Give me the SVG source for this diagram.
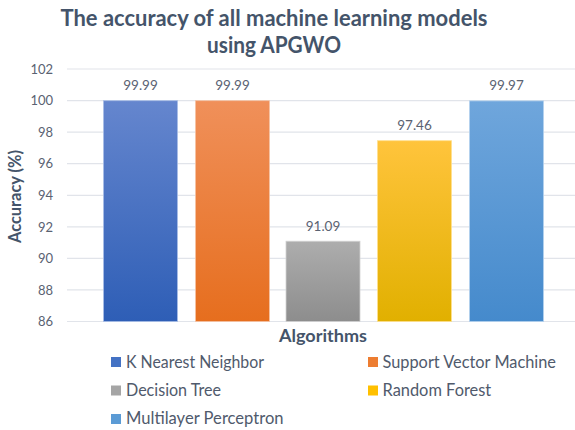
<svg xmlns="http://www.w3.org/2000/svg" width="575" height="430" viewBox="0 0 575 430">
  <style>
    .title { font-family: Lato, "Liberation Sans", sans-serif; font-weight: bold; font-size: 23px; fill: #44546A; text-anchor: middle; }
    .axis-title { font-family: Lato, "Liberation Sans", sans-serif; font-weight: bold; font-size: 16.5px; fill: #44546A; text-anchor: middle; }
    .tick { font-family: Lato, "Liberation Sans", sans-serif; font-size: 13px; fill: #5A6272; text-anchor: end; }
    .value { font-family: Lato, "Liberation Sans", sans-serif; font-size: 13.5px; fill: #5A6272; text-anchor: middle; }
    .legend { font-family: Lato, "Liberation Sans", sans-serif; font-size: 16.5px; fill: #505A6C; }
    .grid line { stroke: #E1E4EA; stroke-width: 1.2; }
  </style>
  <defs>
    <linearGradient id="gKnn" x1="0" y1="0" x2="0" y2="1">
      <stop offset="0" stop-color="#6586CE"/>
      <stop offset="1" stop-color="#2E5EB6"/>
    </linearGradient>
    <linearGradient id="gSvm" x1="0" y1="0" x2="0" y2="1">
      <stop offset="0" stop-color="#F0905A"/>
      <stop offset="1" stop-color="#E66E1E"/>
    </linearGradient>
    <linearGradient id="gDt" x1="0" y1="0" x2="0" y2="1">
      <stop offset="0" stop-color="#ADADAD"/>
      <stop offset="1" stop-color="#8D8D8D"/>
    </linearGradient>
    <linearGradient id="gRf" x1="0" y1="0" x2="0" y2="1">
      <stop offset="0" stop-color="#FFC43C"/>
      <stop offset="1" stop-color="#E1B000"/>
    </linearGradient>
    <linearGradient id="gMlp" x1="0" y1="0" x2="0" y2="1">
      <stop offset="0" stop-color="#6FA6DC"/>
      <stop offset="1" stop-color="#458ACC"/>
    </linearGradient>
  </defs>

  <rect x="0" y="0" width="575" height="430" fill="#FFFFFF"/>

  <!-- chart title -->
  <g id="title">
    <text class="title" x="274" y="25.5" textLength="427" lengthAdjust="spacingAndGlyphs">The accuracy of all machine learning models</text>
    <text class="title" x="274" y="52.5" textLength="134" lengthAdjust="spacingAndGlyphs">using APGWO</text>
  </g>

  <!-- horizontal gridlines, 86..102 -->
  <g class="grid" id="gridlines">
    <line x1="67" y1="69.0" x2="575" y2="69.0"/>
    <line x1="67" y1="100.6" x2="575" y2="100.6"/>
    <line x1="67" y1="132.1" x2="575" y2="132.1"/>
    <line x1="67" y1="163.7" x2="575" y2="163.7"/>
    <line x1="67" y1="195.3" x2="575" y2="195.3"/>
    <line x1="67" y1="226.8" x2="575" y2="226.8"/>
    <line x1="67" y1="258.4" x2="575" y2="258.4"/>
    <line x1="67" y1="289.9" x2="575" y2="289.9"/>
    <line x1="67" y1="321.5" x2="575" y2="321.5"/>
  </g>

  <!-- y axis tick labels -->
  <g id="y-ticks">
    <text class="tick" x="53" y="73.7">102</text>
    <text class="tick" x="53" y="105.3">100</text>
    <text class="tick" x="53" y="136.8">98</text>
    <text class="tick" x="53" y="168.4">96</text>
    <text class="tick" x="53" y="200.0">94</text>
    <text class="tick" x="53" y="231.5">92</text>
    <text class="tick" x="53" y="263.1">90</text>
    <text class="tick" x="53" y="294.6">88</text>
    <text class="tick" x="53" y="326.2">86</text>
  </g>

  <!-- axis titles -->
  <g id="y-axis-title">
    <text class="axis-title" transform="translate(21 196.5) rotate(-90)" x="0" y="0" textLength="93" lengthAdjust="spacingAndGlyphs">Accuracy (%)</text>
  </g>
  <g id="x-axis-title">
    <text class="axis-title" x="323" y="342" textLength="88" lengthAdjust="spacingAndGlyphs">Algorithms</text>
  </g>

  <!-- bars -->
  <g id="bar-knn">
    <rect x="103.5" y="100.7" width="74" height="220.8" fill="url(#gKnn)" stroke="#A8BDE6" stroke-width="0.8"/>
    <text class="value" x="140.5" y="89.9">99.99</text>
  </g>
  <g id="bar-svm">
    <rect x="195.5" y="100.7" width="74" height="220.8" fill="url(#gSvm)" stroke="#F6C3A4" stroke-width="0.8"/>
    <text class="value" x="232.5" y="89.9">99.99</text>
  </g>
  <g id="bar-dt">
    <rect x="286" y="241.2" width="74" height="80.3" fill="url(#gDt)" stroke="#D2D2D2" stroke-width="0.8"/>
    <text class="value" x="323" y="230.6">91.09</text>
  </g>
  <g id="bar-rf">
    <rect x="377.5" y="140.7" width="74" height="180.8" fill="url(#gRf)" stroke="#FFE08E" stroke-width="0.8"/>
    <text class="value" x="414.5" y="130">97.46</text>
  </g>
  <g id="bar-mlp">
    <rect x="469.5" y="100.9" width="74" height="220.6" fill="url(#gMlp)" stroke="#B3D1EE" stroke-width="0.8"/>
    <text class="value" x="506.5" y="90.1">99.97</text>
  </g>

  <!-- legend -->
  <g id="legend">
    <g id="legend-knn">
      <rect x="111" y="357" width="10" height="10" fill="#4472C4"/>
      <text class="legend" x="126" y="368.3" textLength="138" lengthAdjust="spacingAndGlyphs">K Nearest Neighbor</text>
    </g>
    <g id="legend-svm">
      <rect x="368" y="357" width="10" height="10" fill="#ED7D31"/>
      <text class="legend" x="382.5" y="368.3" textLength="173.5" lengthAdjust="spacingAndGlyphs">Support Vector Machine</text>
    </g>
    <g id="legend-dt">
      <rect x="111" y="385.5" width="10" height="10" fill="#A5A5A5"/>
      <text class="legend" x="126" y="396" textLength="95" lengthAdjust="spacingAndGlyphs">Decision Tree</text>
    </g>
    <g id="legend-rf">
      <rect x="368" y="385.5" width="10" height="10" fill="#FFC000"/>
      <text class="legend" x="382.5" y="396" textLength="108.7" lengthAdjust="spacingAndGlyphs">Random Forest</text>
    </g>
    <g id="legend-mlp">
      <rect x="111" y="414" width="10" height="10" fill="#5B9BD5"/>
      <text class="legend" x="126" y="424.3" textLength="157.6" lengthAdjust="spacingAndGlyphs">Multilayer Perceptron</text>
    </g>
  </g>
</svg>
